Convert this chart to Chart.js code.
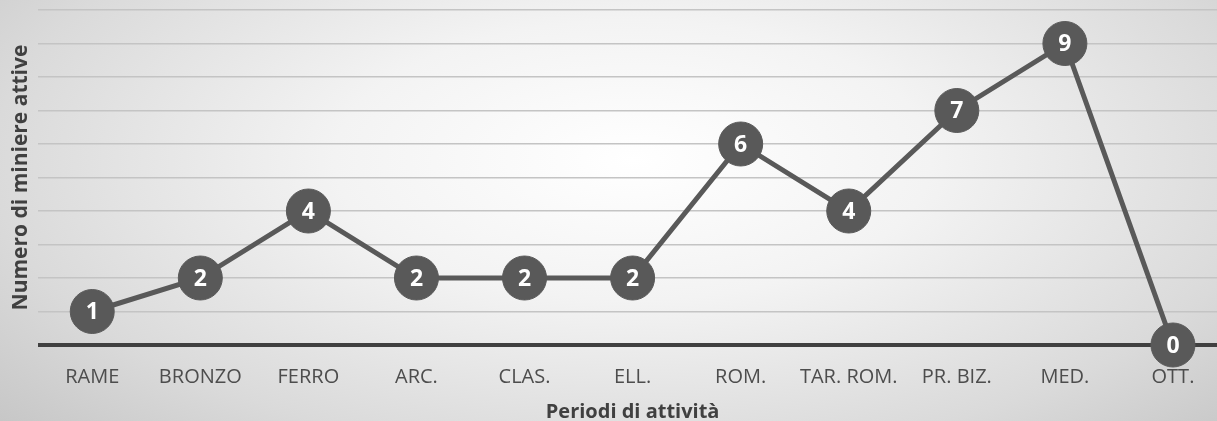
<!DOCTYPE html>
<html lang="it">
<head>
<meta charset="utf-8">
<title>Miniere attive per periodo</title>
<script src="https://cdn.jsdelivr.net/npm/chart.js@4/dist/chart.umd.min.js"></script>
<style>
  html, body {
    margin: 0;
    padding: 0;
    width: 1217px;
    height: 421px;
    overflow: hidden;
    background: radial-gradient(ellipse 70% 95% at 52% 38%, #ffffff 0%, #f3f3f3 35%, #dadada 75%, #c6c6c6 100%);
  }
  #wrap {
    position: relative;
    width: 1228px;
    height: 421px;
  }
</style>
</head>
<body>
<div id="wrap"><canvas id="chart"></canvas></div>
<script>
// Periods of activity and number of active mines in each
const periodi = ['RAME', 'BRONZO', 'FERRO', 'ARC.', 'CLAS.', 'ELL.', 'ROM.', 'TAR. ROM.', 'PR. BIZ.', 'MED.', 'OTT.'];
const miniereAttive = [1, 2, 4, 2, 2, 2, 6, 4, 7, 9, 0];
const yTicks = [0, 1, 2, 3, 4, 5, 6, 7, 8, 9, 10];

const DARK = '#595959';
const FONT = "'Open Sans', 'DejaVu Sans', sans-serif";

// Writes each value in white inside its marker
const valueLabels = {
  id: 'valueLabels',
  afterDatasetsDraw(chart) {
    const ctx = chart.ctx;
    chart.data.datasets.forEach((ds, i) => {
      const meta = chart.getDatasetMeta(i);
      meta.data.forEach((pt, j) => {
        ctx.save();
        ctx.fillStyle = '#ffffff';
        ctx.font = 'bold 23px ' + FONT;
        ctx.textAlign = 'center';
        ctx.textBaseline = 'middle';
        ctx.fillText(String(ds.data[j]), pt.x, pt.y + 1);
        ctx.restore();
      });
    });
  }
};

new Chart(document.getElementById('chart'), {
  type: 'line',
  data: {
    labels: periodi,
    datasets: [{
      data: miniereAttive,
      borderColor: DARK,
      borderWidth: 5,
      pointRadius: 22,
      pointHoverRadius: 22,
      pointBackgroundColor: DARK,
      pointBorderColor: DARK,
      pointBorderWidth: 1,
      tension: 0,
      clip: false
    }]
  },
  options: {
    responsive: true,
    maintainAspectRatio: false,
    animation: false,
    layout: { autoPadding: false, padding: { top: 10, left: 0, right: 1, bottom: 0 } },
    plugins: {
      legend: { display: false },
      tooltip: { enabled: false }
    },
    scales: {
      x: {
        type: 'category',
        offset: true,
        grid: { display: false, drawTicks: false },
        border: { display: false },
        ticks: {
          color: '#4d4d4d',
          font: { family: FONT, size: 20 },
          padding: 20,
          maxRotation: 0,
          autoSkip: false
        },
        title: {
          display: true,
          text: 'Periodi di attività',
          color: '#404040',
          font: { family: FONT, size: 20, weight: 'bold' },
          // tick padding is counted twice in the axis height, so pull the title back up
          padding: { top: -9, bottom: -3 }
        }
      },
      y: {
        min: 0,
        max: 10,
        afterBuildTicks(scale) {
          scale.ticks = yTicks.map(v => ({ value: v }));
        },
        ticks: { display: false },
        border: { display: false },
        grid: {
          drawTicks: false,
          color: c => c.tick && c.tick.value === 0 ? '#404040' : '#c4c4c4',
          lineWidth: c => c.tick && c.tick.value === 0 ? 4 : 1.5
        },
        title: {
          display: true,
          text: 'Numero di miniere attive',
          color: '#404040',
          font: { family: FONT, size: 21, weight: 'bold' },
          padding: { top: 8, bottom: 5 }
        }
      }
    }
  },
  plugins: [valueLabels]
});
</script>
</body>
</html>
